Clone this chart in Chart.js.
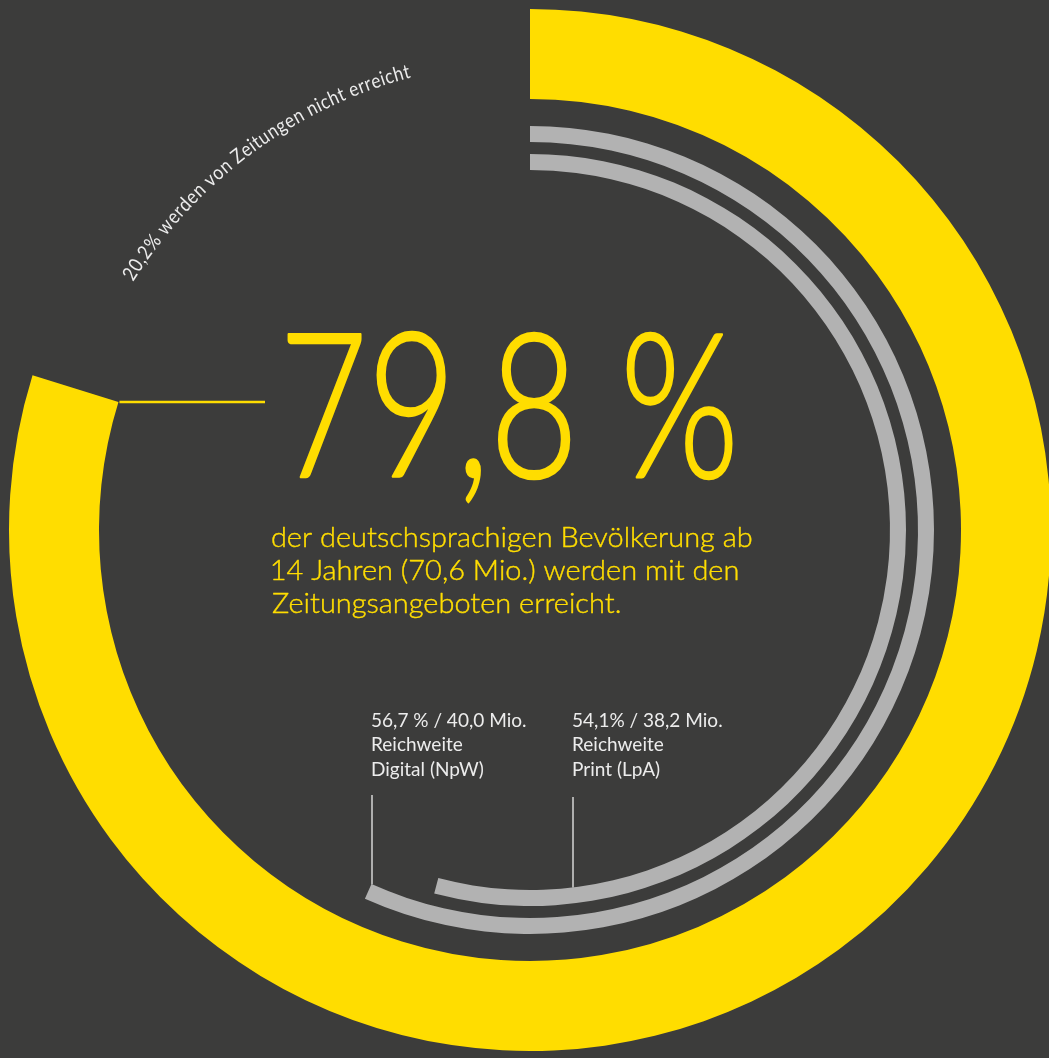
<!DOCTYPE html>
<html lang="de">
<head>
<meta charset="utf-8">
<title>Reichweite der Zeitungen</title>
<script src="https://cdn.jsdelivr.net/npm/chart.js@4.4.1/dist/chart.umd.min.js"></script>
<style>
  html, body { margin: 0; padding: 0; background: #3c3c3b; overflow: hidden; }
  #reach { display: block; }
</style>
</head>
<body>
<canvas id="reach" width="1049" height="1058"></canvas>
<script>
const yellow = '#ffdd00';
const ringGrey = '#b2b2b2';
const labelColor = '#ececec';
const none = 'rgba(0, 0, 0, 0)';

// shares in percent of the German speaking population 14+
const reachCategories = ['erreicht', 'nicht erreicht'];
const reachValues = [79.8, 20.2];
const digitalValues = [56.7, 43.3];
const printValues = [54.1, 45.9];

const headline = '79,8 %';
const subtitleLines = [
  'der deutschsprachigen Bevölkerung ab',
  '14 Jahren (70,6 Mio.) werden mit den',
  'Zeitungsangeboten erreicht.'
];
const digitalLabel = ['56,7 % / 40,0 Mio.', 'Reichweite', 'Digital (NpW)'];
const printLabel = ['54,1% / 38,2 Mio.', 'Reichweite', 'Print (LpA)'];
const gapText = '20,2% werden von Zeitungen nicht erreicht';

function inkWidth(ctx, text) {
  const m = ctx.measureText(text);
  return m.actualBoundingBoxLeft + m.actualBoundingBoxRight;
}

// draws text with its ink starting at x, squeezed horizontally by sx
function drawSqueezed(ctx, text, x, y, sx, stroke) {
  const m = ctx.measureText(text);
  ctx.save();
  ctx.translate(x + m.actualBoundingBoxLeft * sx, y);
  ctx.scale(sx, 1);
  ctx.fillText(text, 0, 0);
  if (stroke) {
    ctx.strokeText(text, 0, 0);
  }
  ctx.restore();
}

function drawLabel(ctx, lines, x, sx) {
  const baselines = [727, 751, 776];
  lines.forEach((line, i) => drawSqueezed(ctx, line, x, baselines[i], sx));
}

// pointer from the label down to the inner edge of a ring
function drawPointer(ctx, arc, x, top) {
  const dx = x - arc.x;
  const bottom = arc.y + Math.sqrt(arc.innerRadius * arc.innerRadius - dx * dx);
  ctx.beginPath();
  ctx.moveTo(x, top);
  ctx.lineTo(x, bottom);
  ctx.stroke();
}

function drawArcText(ctx, text, cx, cy, radius, midAngle, span, squeeze) {
  const chars = [...text];
  const widths = chars.map((c) => ctx.measureText(c).width);
  const total = widths.reduce((a, b) => a + b, 0);
  const k = (span * radius) / total;
  let pos = midAngle - span / 2;

  ctx.save();
  ctx.textAlign = 'center';
  chars.forEach((c, i) => {
    const a = pos + (widths[i] * k) / 2 / radius;
    ctx.save();
    ctx.translate(cx + radius * Math.cos(a), cy + radius * Math.sin(a));
    ctx.rotate(a + Math.PI / 2);
    ctx.scale(squeeze, 1);
    ctx.fillText(c, 0, 0);
    ctx.restore();
    pos += (widths[i] * k) / radius;
  });
  ctx.restore();
}

const annotations = {
  id: 'annotations',
  afterDraw(chart) {
    const ctx = chart.ctx;
    const reached = chart.getDatasetMeta(0).data[0];
    const missed = chart.getDatasetMeta(0).data[1];
    const digital = chart.getDatasetMeta(2).data[0];
    const print = chart.getDatasetMeta(4).data[0];

    ctx.save();

    // yellow rule from the end of the reach arc
    const ex = reached.x + reached.innerRadius * Math.cos(reached.endAngle);
    const ey = reached.y + reached.innerRadius * Math.sin(reached.endAngle);
    ctx.strokeStyle = yellow;
    ctx.lineWidth = 2.5;
    ctx.beginPath();
    ctx.moveTo(ex + 1, ey);
    ctx.lineTo(265, ey);
    ctx.stroke();

    // headline and subtitle
    ctx.fillStyle = yellow;
    ctx.textBaseline = 'alphabetic';
    ctx.textAlign = 'left';
    ctx.font = '300 202px Lato';
    ctx.lineWidth = 2.5;
    ctx.lineJoin = 'round';
    drawSqueezed(ctx, headline, 288, 477, 444 / inkWidth(ctx, headline), true);

    ctx.font = '300 26.5px Lato';
    ctx.lineWidth = 0.4;
    const subSx = 480 / inkWidth(ctx, subtitleLines[0]);
    subtitleLines.forEach((line, i) => drawSqueezed(ctx, line, 272, 547 + i * 33, subSx, true));

    // ring labels
    ctx.fillStyle = labelColor;
    ctx.font = '400 19px Lato';
    const labelSx = 154 / inkWidth(ctx, digitalLabel[0]);
    drawLabel(ctx, digitalLabel, 372, labelSx);
    drawLabel(ctx, printLabel, 573, labelSx);

    ctx.strokeStyle = '#d6d6d6';
    ctx.lineWidth = 1.5;
    drawPointer(ctx, digital, 372, 795);
    drawPointer(ctx, print, 573, 797);

    // curved note in the gap of the reach ring
    ctx.fillStyle = labelColor;
    ctx.font = '400 20px Lato';
    const mid = (missed.startAngle + missed.endAngle) / 2;
    const r = (reached.innerRadius + reached.outerRadius) / 2 - 8;
    drawArcText(ctx, gapText, reached.x, reached.y, r, mid, 43.4 * Math.PI / 180, 0.86);

    ctx.restore();
  }
};

new Chart(document.getElementById('reach'), {
  type: 'doughnut',
  data: {
    labels: reachCategories,
    datasets: [
      { label: 'Gesamt', data: reachValues, backgroundColor: [yellow, none], weight: 90 },
      { label: 'Abstand', data: [1], backgroundColor: [none], weight: 27 },
      { label: 'Digital', data: digitalValues, backgroundColor: [ringGrey, none], weight: 16 },
      { label: 'Abstand', data: [1], backgroundColor: [none], weight: 12 },
      { label: 'Print', data: printValues, backgroundColor: [ringGrey, none], weight: 16 }
    ]
  },
  options: {
    responsive: false,
    animation: false,
    events: [],
    radius: 521,
    cutout: (360 / 521 * 100) + '%',
    borderWidth: 0,
    layout: { padding: { left: 11, top: 2, right: 0, bottom: 0 } },
    plugins: {
      legend: { display: false },
      tooltip: { enabled: false }
    }
  },
  plugins: [annotations]
});
</script>
</body>
</html>
